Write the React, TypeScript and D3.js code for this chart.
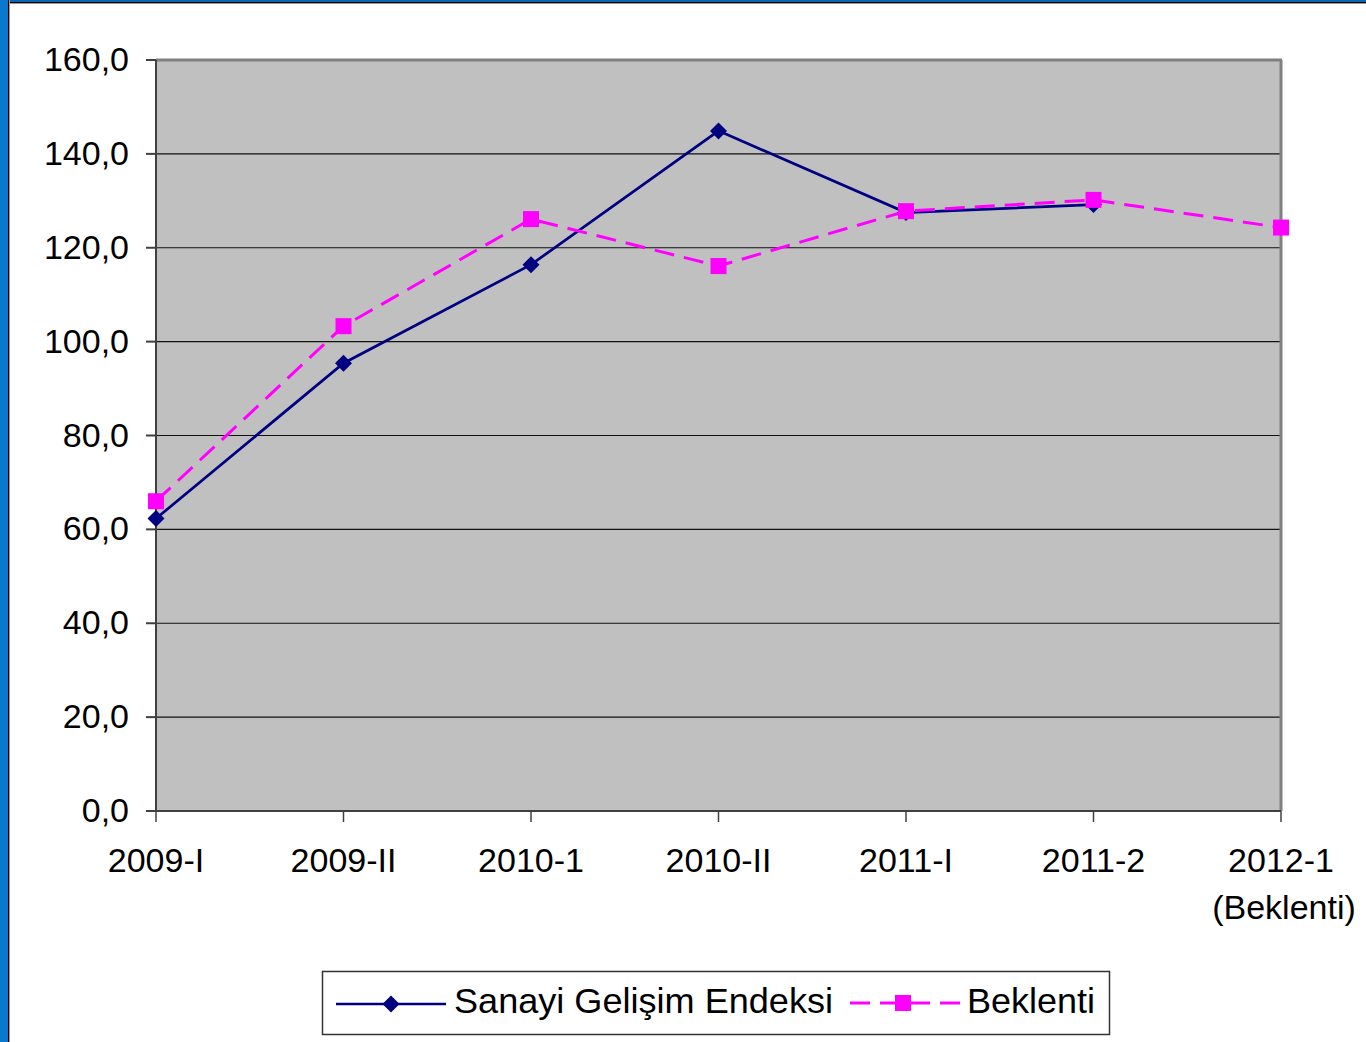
import React from "react";
import * as d3 from "d3";

const categories = ["2009-I", "2009-II", "2010-1", "2010-II", "2011-I", "2011-2", "2012-1\n(Beklenti)"];
const sanayi: (number | null)[] = [62.3, 95.4, 116.4, 144.9, 127.5, 129.2, null];
const beklenti: number[] = [66.0, 103.3, 126.1, 116.1, 127.8, 130.2, 124.3];
const yTicks = [0, 20, 40, 60, 80, 100, 120, 140, 160];
const seriesNames = ["Sanayi Gelişim Endeksi", "Beklenti"];

const W = 1366, H = 1042;
const L = 156, R = 1281, T = 60, B = 811;
const FONT = "'Liberation Sans', Arial, sans-serif";

export default function App() {
  const x = d3.scalePoint<string>().domain(categories).range([L, R]).padding(0);
  const y = d3.scaleLinear().domain([0, 160]).range([B, T]);
  const lineS = d3.line<number | null>()
    .defined((d) => d !== null)
    .x((_, i) => x(categories[i])!)
    .y((d) => y(d as number));
  const lineB = d3.line<number>().x((_, i) => x(categories[i])!).y((d) => y(d));
  const fmt = (v: number) => v.toFixed(1).replace(".", ",");
  const diamond = (cx: number, cy: number, r = 8.5) => `M${cx},${cy - r}L${cx + r},${cy}L${cx},${cy + r}L${cx - r},${cy}Z`;

  return (
    <svg width={W} height={H} style={{ position: "absolute", left: 0, top: 0, display: "block" }} fontFamily={FONT}>
      <rect x={0} y={0} width={W} height={H} fill="#fff" />
      {/* frame */}
      <rect x={0} y={0} width={W} height={2} fill="#0a64b4" />
      <rect x={0} y={2} width={W} height={1} fill="#000" />
      <rect x={0} y={3} width={W} height={1} fill="#999" />
      <rect x={0} y={0} width={8} height={H} fill="#0a78cc" />
      <rect x={8} y={0} width={1} height={H} fill="#000" />
      <rect x={9} y={0} width={1} height={H} fill="#999" />

      {/* plot area */}
      <rect x={L} y={T} width={R - L} height={B - T} fill="#c0c0c0" />
      {yTicks.filter((t) => t > 0).map((t) => (
        <line key={t} x1={L} x2={R} y1={y(t)} y2={y(t)} stroke="#111" strokeWidth={1.2} />
      ))}
      <line x1={L} x2={R + 1} y1={T} y2={T} stroke="#808080" strokeWidth={3} />
      <line x1={R} x2={R} y1={T} y2={B} stroke="#808080" strokeWidth={3} />
      <line x1={L} x2={L} y1={T} y2={B} stroke="#404040" strokeWidth={2} />
      <line x1={L} x2={R} y1={B} y2={B} stroke="#404040" strokeWidth={2} />

      {yTicks.map((t) => (
        <g key={t}>
          <line x1={146} x2={L} y1={y(t)} y2={y(t)} stroke="#404040" strokeWidth={2} />
          <text x={129} y={y(t) + 11} textAnchor="end" fontSize={34} fill="#000">{fmt(t)}</text>
        </g>
      ))}
      {categories.map((c) => (
        <g key={c}>
          <line x1={x(c)!} x2={x(c)!} y1={B} y2={B + 11} stroke="#404040" strokeWidth={1.5} />
          {c.split("\n").map((part, k) => (
            <text key={k} x={x(c)! + (k === 1 ? 3 : 0)} y={872 + k * 47} textAnchor="middle" fontSize={34} fill="#000">{part}</text>
          ))}
        </g>
      ))}

      {/* series */}
      <path d={lineS(sanayi) || ""} fill="none" stroke="#000080" strokeWidth={2.7} />
      <path d={lineB(beklenti) || ""} fill="none" stroke="#ff00ff" strokeWidth={3} strokeDasharray="20,10" />
      {sanayi.map((v, i) => v === null ? null : (
        <path key={i} d={diamond(x(categories[i])!, y(v))} fill="#000080" />
      ))}
      {beklenti.map((v, i) => (
        <rect key={i} x={x(categories[i])! - 8} y={y(v) - 8} width={16} height={16} fill="#ff00ff" />
      ))}

      {/* legend */}
      <rect x={322.5} y={971.5} width={787} height={63} fill="#fff" stroke="#333" strokeWidth={1.5} />
      <line x1={336} x2={446} y1={1004} y2={1004} stroke="#000080" strokeWidth={2.7} />
      <path d={diamond(391, 1004)} fill="#000080" />
      <text x={454} y={1013} fontSize={35} fill="#000" textLength={379} lengthAdjust="spacingAndGlyphs">{seriesNames[0]}</text>
      <line x1={850} x2={960} y1={1003} y2={1003} stroke="#ff00ff" strokeWidth={3} strokeDasharray="20,10" />
      <rect x={895} y={995} width={16} height={16} fill="#ff00ff" />
      <text x={967} y={1013} fontSize={35} fill="#000" textLength={128} lengthAdjust="spacingAndGlyphs">{seriesNames[1]}</text>
    </svg>
  );
}
